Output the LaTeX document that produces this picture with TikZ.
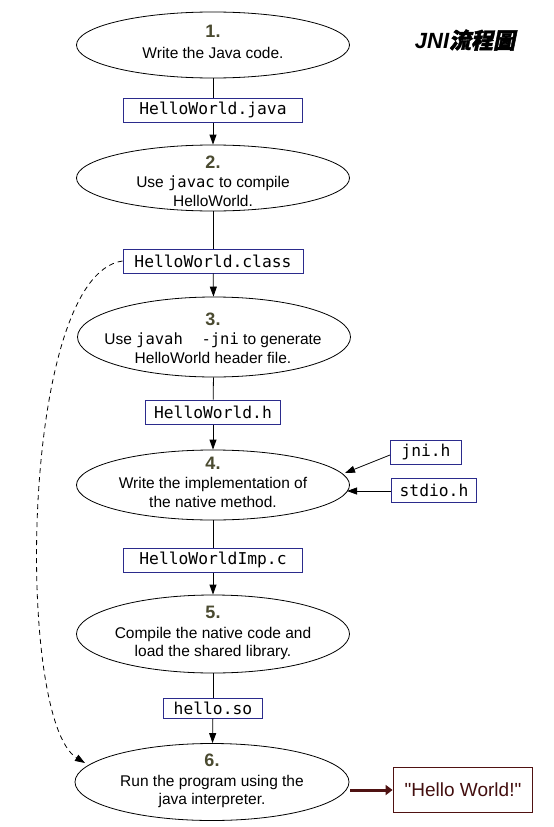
\documentclass[tikz,border=0pt]{standalone}
\usepackage{fontspec}
\setmainfont{Liberation Sans}
\setmonofont{DejaVu Sans Mono}
\newfontfamily\plainsans[Ligatures=TeXOff]{Liberation Sans}
\newfontfamily\cjk[FakeSlant=0.2,FakeBold=2]{Noto Sans CJK TC}
\usetikzlibrary{shapes.geometric,arrows.meta}
\definecolor{boxblue}{HTML}{2B2B8C}
\definecolor{numcol}{HTML}{4A4A30}
\definecolor{hwred}{HTML}{4F1212}
\newcommand{\stepnum}[1]{{\color{numcol}\fontsize{18}{18}\selectfont\bfseries #1}}
\tikzset{
  stepshape/.style={ellipse, draw, line width=0.8pt, minimum width=273pt, minimum height=66pt, inner sep=0pt},
  steptext/.style={align=center, inner sep=0pt, font=\fontsize{15.5}{18.5}\selectfont},
  filebox/.style={draw=boxblue, line width=1pt, font=\ttfamily\fontsize{16.3}{16}\selectfont, minimum height=24pt, inner sep=0pt},
  flow/.style={line width=0.8pt},
  flowarrow/.style={line width=0.8pt, -{Triangle[width=7pt,length=10pt]}},
}
\begin{document}
\begin{tikzpicture}[x=1pt,y=-1pt]
\useasboundingbox (0,0) rectangle (554,827);
% title
\node (title) at (465,40) {\fontsize{22}{22}\selectfont\bfseries\itshape JNI{\cjk 流程圖}};
% steps
\node[stepshape] (s1) at (213,45) {};
\node[steptext] (s1t) at (213,42) {\stepnum{1.}\\[2pt] Write the Java code.};
\node[filebox, minimum width=179pt] (f1) at (213,110) {HelloWorld.java};
\node[stepshape] (s2) at (213,178) {};
\node[steptext] (s2t) at (213,181) {\stepnum{2.}\\[1pt] Use \texttt{javac} to compile\\ HelloWorld.};
\node[filebox, minimum width=180pt] (f2) at (213,261) {HelloWorld.class};
\node[stepshape, minimum height=80pt] (s3) at (214,337) {};
\node[steptext] (s3t) at (213,338) {\stepnum{3.}\\[1pt] Use \texttt{javah\ \ -jni} to generate\\ HelloWorld header file.};
\node[filebox, minimum width=135pt] (f3) at (213,412) {HelloWorld.h};
\node[stepshape, minimum height=70pt] (s4) at (213,485) {};
\node[steptext] (s4t) at (213,482) {\stepnum{4.}\\[1pt] Write the implementation of\\ the native method.};
\node[filebox, minimum width=71pt] (jni) at (426,452) {jni.h};
\node[filebox, minimum width=85pt] (stdio) at (434,490) {stdio.h};
\node[filebox, minimum width=179pt] (f4) at (213,560) {HelloWorldImp.c};
\node[stepshape, minimum height=78pt] (s5) at (213,634) {};
\node[steptext] (s5t) at (213,633) {\stepnum{5.}\\[1pt] Compile the native code and\\ load the shared library.};
\node[filebox, minimum width=99pt, minimum height=20pt] (f5) at (213,708) {hello.so};
\node[stepshape, minimum width=274pt, minimum height=77pt] (s6) at (212,782) {};
\node[steptext] (s6t) at (212,781) {\stepnum{6.}\\[1pt] Run the program using the\\ java interpreter.};
\node[draw=hwred, line width=1.8pt, minimum width=139pt, minimum height=45pt, inner sep=0pt, text=hwred!85!black, font=\plainsans\fontsize{19}{19}\selectfont] (hw) at (463,790) {"Hello World!"};
% connectors
\draw[flow] (s1) -- (f1);
\draw[flowarrow] (f1) -- (s2);
\draw[flow] (s2) -- (f2);
\draw[flowarrow] (f2) -- (s3);
\draw[flow] (s3) -- (f3);
\draw[flowarrow] (f3) -- (s4);
\draw[flow] (s4) -- (f4);
\draw[flowarrow] (f4) -- (s5);
\draw[flow] (s5) -- (f5);
\draw[flowarrow] (f5) -- (s6);
\coordinate (jnitip) at (345,473);
\coordinate (stdiotip) at (347,491);
\draw[flowarrow] (jni.west) ++(0,3) -- (jnitip);
\draw[flowarrow] (stdio.west) ++(0,1) -- (stdiotip);
\coordinate (dashtip) at (85,763);
\draw[line width=0.8pt, dashed, dash pattern=on 5pt off 4pt, -{Triangle[width=7pt,length=10pt]}] (f2.west) .. controls (20,275) and (15,720) .. (dashtip);
\draw[line width=3pt, draw=hwred, -{Triangle[width=10pt,length=7pt]}] (s6.east |- hw.west) ++(1,0) -- (hw.west);
\end{tikzpicture}
\end{document}
